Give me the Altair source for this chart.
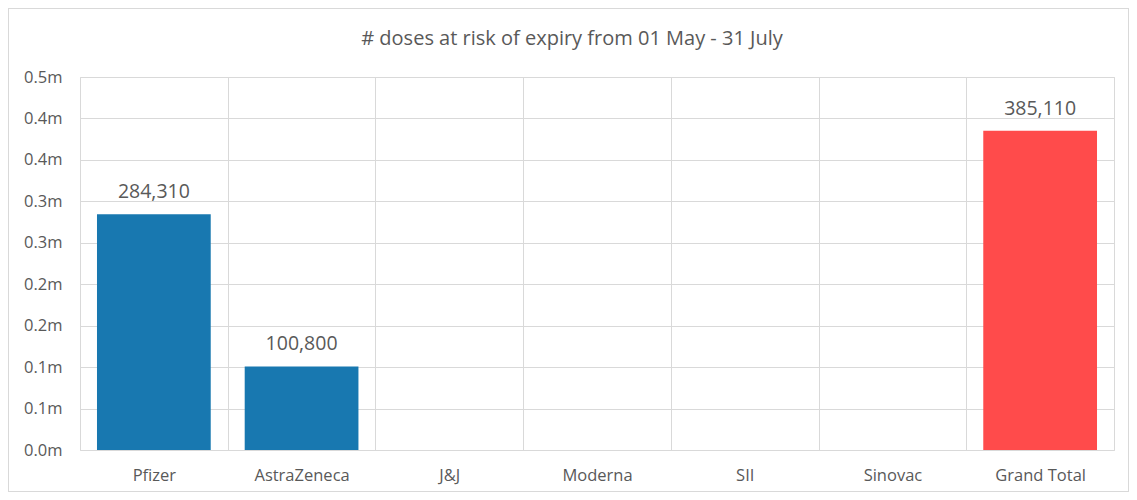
import altair as alt
import pandas as pd

categories = ["Pfizer", "AstraZeneca", "J&J", "Moderna", "SII", "Sinovac", "Grand Total"]
doses = [284310, 100800, 0, 0, 0, 0, 385110]
kinds = ["vaccine", "vaccine", "vaccine", "vaccine", "vaccine", "vaccine", "total"]

df = pd.DataFrame({"category": categories, "doses": doses, "kind": kinds})
df["label"] = [f"{v:,}" if v > 0 else "" for v in doses]

FONT = "Open Sans"
GREY = "#595959"

x = alt.X("category:N", sort=categories, title=None,
          scale=alt.Scale(paddingInner=0, paddingOuter=0),
          axis=alt.Axis(tickBand="extent", grid=True, gridColor="#D9D9D9", ticks=False,
                        domain=False, labelAngle=0, labelPadding=17, labelFontSize=16.5,
                        labelColor=GREY, labelFont=FONT))
y = alt.Y("doses:Q", title=None,
          scale=alt.Scale(domain=[0, 450000], nice=False),
          axis=alt.Axis(values=list(range(0, 450001, 50000)),
                        labelExpr="format(round(datum.value/1e5)/10, '.1f') + 'm'",
                        gridColor="#D9D9D9", ticks=False, domain=False, labelPadding=18,
                        labelFontSize=16.5, labelColor=GREY, labelFont=FONT))

bars = alt.Chart(df).mark_bar(width=alt.RelativeBandSize(0.77)).encode(
    x=x, y=y,
    color=alt.Color("kind:N", scale=alt.Scale(domain=["vaccine", "total"], range=["#1878B0", "#FF4B4B"]), legend=None),
)
labels = alt.Chart(df).mark_text(dy=-22, fontSize=19.5, color=GREY, font=FONT).encode(
    x=alt.X("category:N", sort=categories), y="doses:Q", text="label:N"
)
frame = alt.Chart(df).mark_rect(fill=None, stroke="#D9D9D9", strokeWidth=1, clip=False).encode(
    x=alt.value(-71.5), x2=alt.value(1049), y=alt.value(-68.5), y2=alt.value(414.5)
)

chart = (frame + bars + labels).properties(
    width=1034, height=373,
    title=alt.TitleParams("# doses at risk of expiry from 01 May - 31 July", fontSize=20,
                          font=FONT, fontWeight="normal", color=GREY, offset=-41, dx=-25),
    autosize=alt.AutoSizeParams(type="none"),
    padding={"left": 72, "top": 69, "right": 15, "bottom": 42},
).configure_view(stroke=None).configure(background="white")

chart.save("out.html", embed_options={"renderer": "svg", "actions": False})
